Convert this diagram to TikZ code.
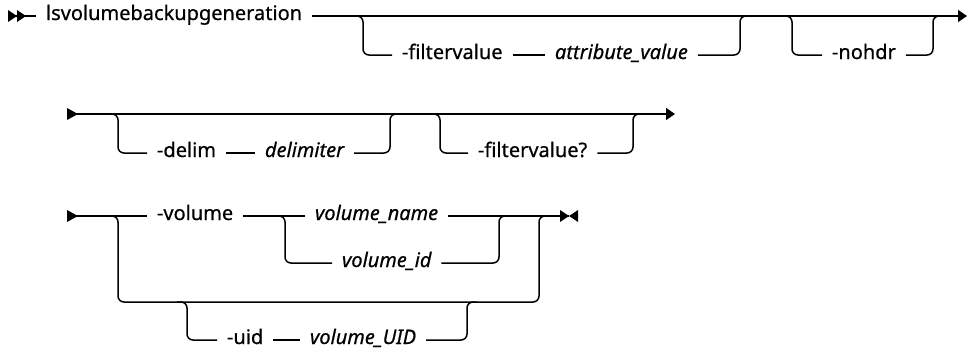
\documentclass[tikz,border=0pt]{standalone}
\usepackage{fontspec}
\setmainfont{Noto Sans}[FakeBold=0.6]
\usepackage{tikz}
\usetikzlibrary{arrows.meta,calc}

\begin{document}
\begin{tikzpicture}[
  x=1pt, y=-1pt,
  rail/.style={line width=1.5pt, draw=black, rounded corners=6pt},
  kw/.style={inner sep=0pt, outer xsep=10pt, text height=0.8em, text depth=0pt, anchor=west, font=\fontsize{20}{24}\selectfont},
  var/.style={kw, font=\fontsize{20}{24}\selectfont\itshape},
  tip/.style={-{Triangle[length=9pt, width=12pt]}},
]
\useasboundingbox (0,0) rectangle (967,351);

% Row 1
\coordinate (r1s) at (8,16);
\node[kw] (cmd) at (36,16) {lsvolumebackupgeneration};
\coordinate (r1e) at (967,16);
\coordinate (a1) at (363,16);
\coordinate (a2) at (740,16);
\node[kw] (fv) at (392,55) {-filtervalue};
\node[var] (av) at (545,55) {attribute\_value};
\coordinate (n1) at (792,16);
\coordinate (n2) at (933,16);
\node[kw] (nh) at (822,55) {-nohdr};

% Row 2
\coordinate (r2s) at (67,114);
\coordinate (r2e) at (675,114);
\coordinate (d1) at (118,114);
\coordinate (d2) at (390,114);
\node[kw] (dl) at (147,153) {-delim};
\node[var] (dv) at (255,153) {delimiter};
\coordinate (f1) at (440,114);
\coordinate (f2) at (633,114);
\node[kw] (fq) at (468,153) {-filtervalue?};

% Row 3
\coordinate (r3s) at (67,216);
\node[kw] (vol) at (147,216) {-volume};
\node[var] (vn) at (305,216) {volume\_name};
\coordinate (r3e) at (569,216);
\coordinate (c1) at (118,216);
\coordinate (c2) at (539,216);
\coordinate (e1) at (118,302);
\coordinate (e2) at (539,302);
\coordinate (c3) at (285,216);
\coordinate (c4) at (499,216);
\node[var] (vid) at (332,263) {volume\_id};
\coordinate (u1) at (187,302);
\coordinate (u2) at (467,302);
\node[kw] (uid) at (217,340) {-uid};
\node[var] (vuid) at (300,340) {volume\_UID};

% Start and end marks
\fill (r1s) ++(0,-6) -- ++(9,6) -- ++(-9,6) -- cycle;
\fill (r1s) ++(9,-6) -- ++(9,6) -- ++(-9,6) -- cycle;
\fill (r2s) ++(0,-6) -- ++(11,6) -- ++(-11,6) -- cycle;
\fill (r3s) ++(0,-6) -- ++(11,6) -- ++(-11,6) -- cycle;
\fill (r3e) ++(-9,-6) -- ++(9,6) -- ++(-9,6) -- cycle;
\fill (r3e) ++(9,-6) -- ++(-9,6) -- ++(9,6) -- cycle;

% Main lines
\draw[rail] (r1s) -- (cmd.west);
\draw[rail, tip] (cmd.east) -- (r1e);
\draw[rail, tip] (r2s) -- (r2e);
\draw[rail] (r3s) -- (vol.west);
\draw[rail] (vol.east) -- (vn.west);
\draw[rail] (vn.east) -- (r3e);

% Optional branches
\draw[rail] ([xshift=-10pt]a1) -- (a1) |- (fv.west);
\draw[rail] (fv.east) -- (av.west);
\draw[rail] (av.east) -| (a2) -- ([xshift=10pt]a2);
\draw[rail] ([xshift=-10pt]n1) -- (n1) |- (nh.west);
\draw[rail] (nh.east) -| (n2) -- ([xshift=10pt]n2);
\draw[rail] ([xshift=-10pt]d1) -- (d1) |- (dl.west);
\draw[rail] (dl.east) -- (dv.west);
\draw[rail] (dv.east) -| (d2) -- ([xshift=10pt]d2);
\draw[rail] ([xshift=-10pt]f1) -- (f1) |- (fq.west);
\draw[rail] (fq.east) -| (f2) -- ([xshift=10pt]f2);

% Volume choice
\draw[rail] ([xshift=-10pt]c1) -- (c1) -- (e1) -- (e2) -- (c2) -- ([xshift=10pt]c2);
\draw[rail] ([xshift=-10pt]c3) -- (c3) |- (vid.west);
\draw[rail] (vid.east) -| (c4) -- ([xshift=10pt]c4);
\draw[rail] ([xshift=-10pt]u1) -- (u1) |- (uid.west);
\draw[rail] (uid.east) -- (vuid.west);
\draw[rail] (vuid.east) -| (u2) -- ([xshift=10pt]u2);

\end{tikzpicture}
\end{document}
